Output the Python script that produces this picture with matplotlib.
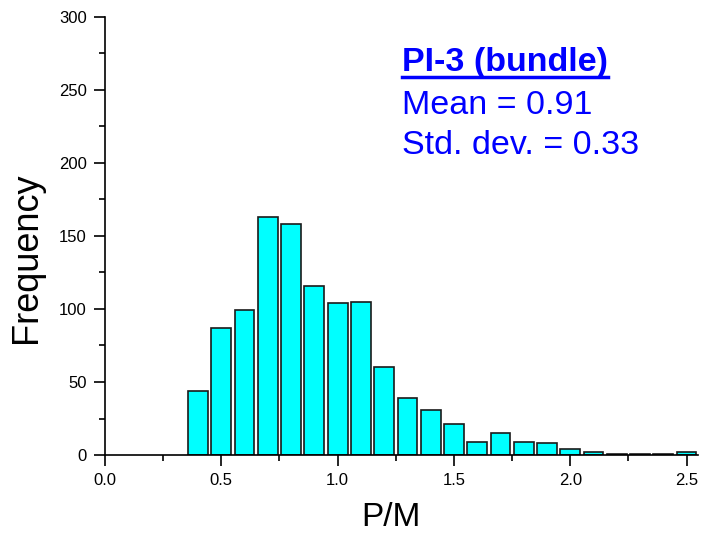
import numpy as np
import matplotlib
matplotlib.use('Agg')
import matplotlib.pyplot as plt
from matplotlib.ticker import MultipleLocator
from matplotlib.lines import Line2D

# data
bin_centers = [0.4, 0.5, 0.6, 0.7, 0.8, 0.9, 1.0, 1.1, 1.2, 1.3, 1.4,
               1.5, 1.6, 1.7, 1.8, 1.9, 2.0, 2.1, 2.2, 2.3, 2.4, 2.5]
counts = [44, 87, 99, 163, 158, 116, 104, 105, 60, 39, 31,
          21, 9, 15, 9, 8, 4, 2, 1, 1, 1, 2]
title_text = 'PI-3 (bundle)'
mean_text = 'Mean = 0.91'
std_text = 'Std. dev. = 0.33'

plt.rcParams['font.family'] = ['Liberation Sans', 'DejaVu Sans']

fig = plt.figure(figsize=(7.02, 5.43), dpi=100)
ax = fig.add_axes([0.1496, 0.162, 0.845, 0.807])

ax.bar(bin_centers, counts, width=0.085, color='#00FFFF', edgecolor='#1a1a1a', linewidth=1.2)

ax.set_xlim(0, 2.55)
ax.set_ylim(0, 300)
ax.xaxis.set_major_locator(MultipleLocator(0.5))
ax.xaxis.set_minor_locator(MultipleLocator(0.25))
ax.yaxis.set_major_locator(MultipleLocator(50))
ax.yaxis.set_minor_locator(MultipleLocator(25))
ax.xaxis.set_major_formatter(matplotlib.ticker.FormatStrFormatter('%.1f'))

ax.spines['top'].set_visible(False)
ax.spines['right'].set_visible(False)
ax.spines['left'].set_linewidth(1.2)
ax.spines['bottom'].set_linewidth(1.2)
ax.tick_params(which='major', direction='out', length=8, width=1.2, labelsize=12, pad=5)
ax.tick_params(which='minor', direction='out', length=4, width=1.2)

ax.set_xlabel('P/M', fontsize=24)
ax.set_ylabel('Frequency', fontsize=26)
ax.xaxis.set_label_coords(0.482, -0.108)
ax.yaxis.set_label_coords(-0.103, 0.45)

t1 = fig.text(0.572, 0.869, title_text, fontsize=24.5, fontweight='bold', color='#0000FF', va='baseline')
fig.text(0.572, 0.790, mean_text, fontsize=24.5, color='#0000FF', va='baseline')
fig.text(0.572, 0.716, std_text, fontsize=24.5, color='#0000FF', va='baseline')

# underline the title
fig.canvas.draw()
bb = t1.get_window_extent().transformed(fig.transFigure.inverted())
uy = 0.869 - 0.011
fig.add_artist(Line2D([bb.x0, bb.x1], [uy, uy], transform=fig.transFigure, color='#0000FF', linewidth=2.5))

fig.savefig('out.png', dpi=100)
